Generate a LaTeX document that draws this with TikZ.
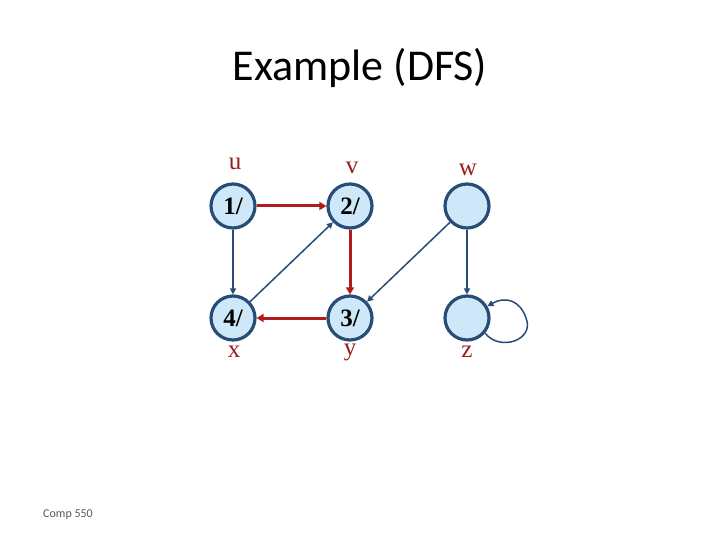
\documentclass[tikz,border=0pt]{standalone}
\usepackage{fontspec}
\setmainfont{Liberation Serif}
\newfontfamily\calibri{Carlito}
\usetikzlibrary{arrows.meta}
\definecolor{nodeblue}{HTML}{CFE8F9}
\definecolor{edgeblue}{HTML}{284C78}
\definecolor{treered}{HTML}{B01C1C}
\definecolor{labelred}{HTML}{9A1C1C}
\begin{document}
\begin{tikzpicture}[x=1pt,y=-1pt,
  vert/.style={circle,draw=edgeblue,line width=3.2pt,fill=nodeblue,minimum size=44pt,inner sep=0pt,font=\fontsize{25}{25}\selectfont\bfseries},
  vlabel/.style={text=labelred,font=\fontsize{25}{25}\selectfont},
  treeedge/.style={draw=treered,line width=3pt,-{Triangle[length=7pt,width=8pt]}},
  plainedge/.style={draw=edgeblue,line width=1.5pt,-{Triangle[length=6pt,width=6pt]}}]
\useasboundingbox (0,0) rectangle (720,540);
\node[font=\calibri\fontsize{44}{44}\selectfont] (title) at (360,68) {Example (DFS)};
\node[vert] (u) at (233,206) {1/};
\node[vert] (v) at (350,206) {2/};
\node[vert] (w) at (467,206) {};
\node[vert] (x) at (233,318) {4/};
\node[vert] (y) at (350,318) {3/};
\node[vert] (z) at (467,318) {};
\node[vlabel] (lu) at (235,164) {u};
\node[vlabel] (lv) at (352,168) {v};
\node[vlabel] (lw) at (468,170) {w};
\node[vlabel] (lx) at (234,352) {x};
\node[vlabel] (ly) at (350,352) {y};
\node[vlabel] (lz) at (467,352) {z};
\draw[treeedge] (u) -- (v);
\draw[treeedge] (v) -- (y);
\draw[treeedge] (y) -- (x);
\draw[plainedge] (u) -- (x);
\draw[plainedge] (x) -- (v);
\draw[plainedge] (w) -- (y);
\draw[plainedge] (w) -- (z);
\draw[plainedge] (z.-40) .. controls (500,352) and (535,340) .. (526,318) .. controls (520,300) and (505,296) .. (z.30);
\node[font=\calibri\fontsize{12}{12}\selectfont,text=black!65] (comp) at (68,515) {Comp 550};
\end{tikzpicture}
\end{document}
